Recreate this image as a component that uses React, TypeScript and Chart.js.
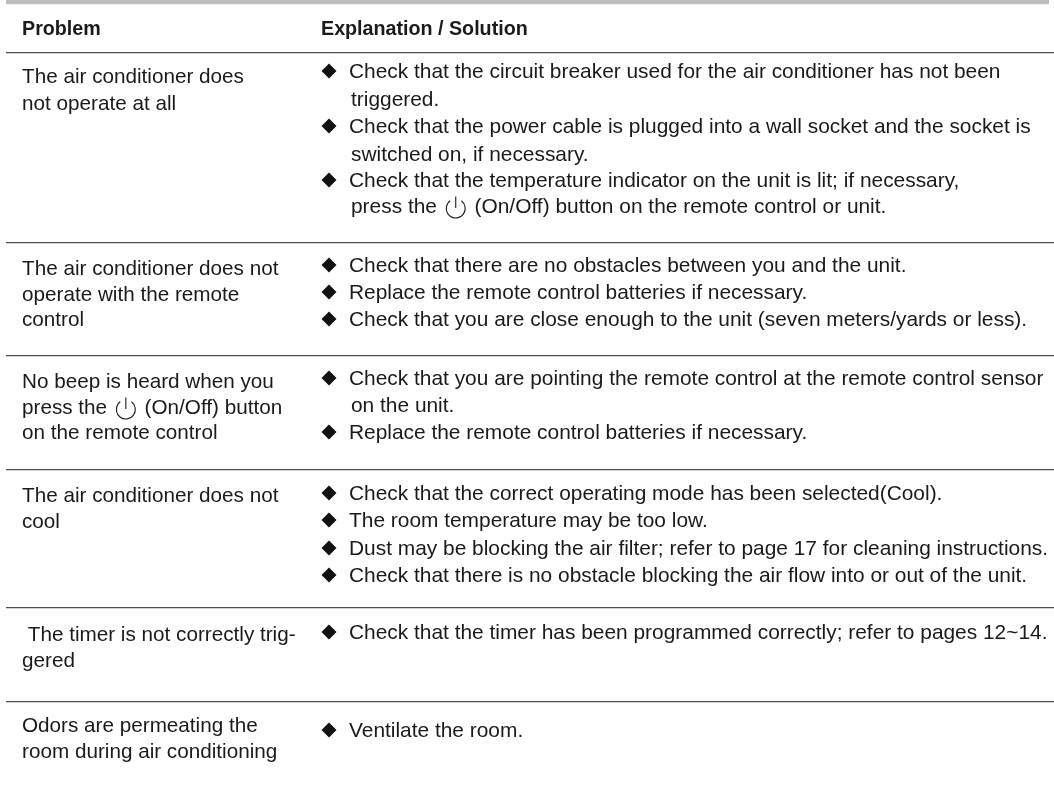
import React, { useEffect, useRef } from "react";
import { Chart, registerables } from "chart.js";

Chart.register(...registerables);

const POWER = "\u23FB";

const headers = ["Problem", "Explanation / Solution"];
const headerBaseline = 35;

const problemLines = [
  "The air conditioner does",
  "not operate at all",
  "The air conditioner does not",
  "operate with the remote",
  "control",
  "No beep is heard when you",
  `press the ${POWER} (On/Off) button`,
  "on the remote control",
  "The air conditioner does not",
  "cool",
  " The timer is not correctly trig-",
  "gered",
  "Odors are permeating the",
  "room during air conditioning",
];
const problemBaselines = [83, 110, 275, 301, 326, 388, 414, 439, 502, 528, 641, 667, 732, 758];

const solutionLines = [
  "Check that the circuit breaker used for the air conditioner has not been",
  "triggered.",
  "Check that the power cable is plugged into a wall socket and the socket is",
  "switched on, if necessary.",
  "Check that the temperature indicator on the unit is lit; if necessary,",
  `press the ${POWER} (On/Off) button on the remote control or unit.`,
  "Check that there are no obstacles between you and the unit.",
  "Replace the remote control batteries if necessary.",
  "Check that you are close enough to the unit (seven meters/yards or less).",
  "Check that you are pointing the remote control at the remote control sensor",
  "on the unit.",
  "Replace the remote control batteries if necessary.",
  "Check that the correct operating mode has been selected(Cool).",
  "The room temperature may be too low.",
  "Dust may be blocking the air filter; refer to page 17 for cleaning instructions.",
  "Check that there is no obstacle blocking the air flow into or out of the unit.",
  "Check that the timer has been programmed correctly; refer to pages 12~14.",
  "Ventilate the room.",
];
const solutionBaselines = [78, 106, 133, 161, 187, 213, 272, 299, 326, 385, 412, 439, 500, 527, 555, 582, 639, 737];
const continuationLines = [1, 3, 5, 10];

const ruleRows = [53, 243, 356, 470, 608, 702];
const topBandRow = 2;
const topBandEnds = [6, 1049];

const problemColumn = 22;
const headerColumn = 321;
const bulletColumn = 329;
const solutionColumn = 349;
const continuationColumn = 351;
const problemFont = '20.7px "Liberation Sans"';
const solutionFont = '20.9px "Liberation Sans"';
const boldFont = 'bold 19.7px "Liberation Sans"';
const ink = "#1a1a1a";

export default function App() {
  const ref = useRef<HTMLCanvasElement>(null);
  useEffect(() => {
    const tablePlugin = {
      id: "tableText",
      afterDatasetsDraw(chart: any) {
        const { ctx, scales } = chart;
        const X = (v: number) => scales.x.getPixelForValue(v);
        const Y = (v: number) => scales.y.getPixelForValue(v);
        const icon = (cx: number, base: number) => {
          ctx.save();
          ctx.strokeStyle = ink;
          ctx.lineWidth = 1.1;
          ctx.beginPath();
          ctx.arc(cx, base - 4.5, 9.5, -Math.PI * 0.3, Math.PI * 1.3);
          ctx.stroke();
          ctx.beginPath();
          ctx.moveTo(cx, base - 16.5);
          ctx.lineTo(cx, base - 5);
          ctx.stroke();
          ctx.restore();
        };
        const line = (text: string, x: number, base: number) => {
          const parts = text.split(POWER);
          ctx.fillText(parts[0], x, base);
          if (parts.length > 1) {
            const w = ctx.measureText(parts[0]).width;
            icon(x + w + 13, base);
            ctx.fillText(parts[1], x + w + 26, base);
          }
        };
        ctx.save();
        ctx.fillStyle = ink;
        ctx.textBaseline = "alphabetic";
        ctx.font = boldFont;
        ctx.fillText(headers[0], X(problemColumn), Y(headerBaseline));
        ctx.fillText(headers[1], X(headerColumn), Y(headerBaseline));
        ctx.font = problemFont;
        problemLines.forEach((t, i) => line(t, X(problemColumn), Y(problemBaselines[i])));
        ctx.font = solutionFont;
        solutionLines.forEach((t, i) =>
          line(
            t,
            X(continuationLines.includes(i) ? continuationColumn : solutionColumn),
            Y(solutionBaselines[i])
          )
        );
        ctx.restore();
      },
    };
    const chart = new Chart(ref.current!, {
      type: "scatter",
      data: {
        datasets: [
          {
            data: solutionBaselines
              .map((b, i) => ({ x: bulletColumn, y: b - 7, i }))
              .filter((p) => !continuationLines.includes(p.i)),
            pointStyle: "rectRot",
            pointRadius: 7.5,
            pointHoverRadius: 7.5,
            backgroundColor: "#111",
            borderWidth: 0,
          },
          {
            type: "line",
            data: topBandEnds.map((x) => ({ x, y: topBandRow })),
            borderColor: "#bcbdbf",
            borderWidth: 4.5,
            pointRadius: 0,
            showLine: true,
            fill: false,
          },
        ],
      },
      options: {
        animation: false,
        responsive: false,
        events: [],
        layout: { autoPadding: false, padding: { left: 6, top: 0, right: 0, bottom: 0 } },
        plugins: { legend: { display: false }, tooltip: { enabled: false } },
        scales: {
          x: { type: "linear", min: 6, max: 1054, display: false },
          y: {
            type: "linear",
            reverse: true,
            min: 0,
            max: 799,
            display: true,
            border: { display: false },
            ticks: { display: false },
            afterFit(s: any) { s.width = 0; },
            afterBuildTicks(s: any) {
              s.ticks = ruleRows.map((value) => ({ value }));
            },
            grid: {
              drawTicks: false,
              color: "#505050",
              lineWidth: 1.3,
            },
          },
        },
      },
      plugins: [tablePlugin],
    } as any);
    return () => chart.destroy();
  }, []);
  return (
    <div style={{ position: "fixed", left: 0, top: 0, width: 1054, height: 799, background: "#fff" }}>
      <canvas ref={ref} width={1054} height={799} style={{ display: "block" }} />
    </div>
  );
}
